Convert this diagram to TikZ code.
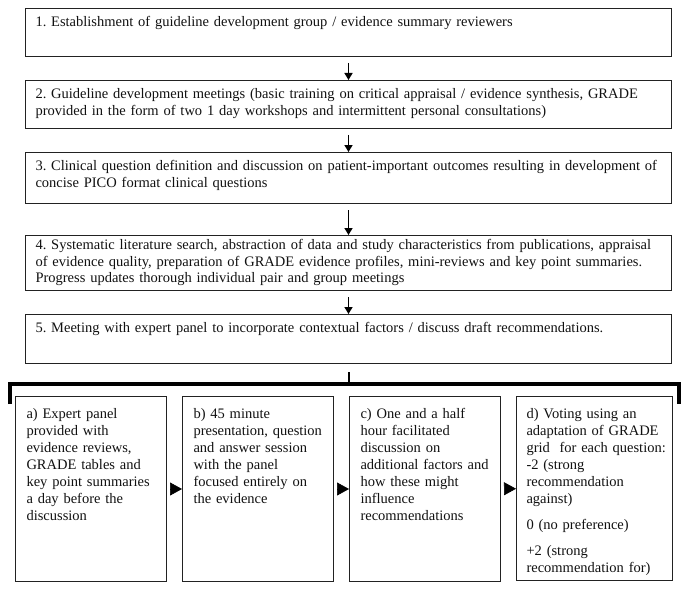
\documentclass[tikz,border=0pt]{standalone}
\usepackage{fontspec}
\setmainfont{Liberation Serif}
\usepackage{tikz}
\usetikzlibrary{positioning,arrows.meta}
\definecolor{ink}{HTML}{111111}
\definecolor{rule}{HTML}{222222}
\tikzset{
  stage/.style={draw=rule, line width=1pt, anchor=north west, text=ink,
    text width=626pt, inner xsep=10pt, inner ysep=8pt, align=left,
    text height=10pt, font=\fontsize{14.5}{16.7}\selectfont},
  substage/.style={draw=rule, line width=1pt, anchor=north west, text=ink,
    inner xsep=11pt, inner ysep=10pt, align=left,
    text height=12pt, text depth=153pt, font=\fontsize{14.5}{17}\selectfont},
  flow/.style={-{Triangle[length=7pt,width=8pt]}, line width=1.5pt, shorten <=6pt},
  nudge/.style={-{Triangle[length=12pt,width=13pt]}, line width=0.6pt, shorten <=3pt},
  brace/.style={line width=3.5pt, line join=miter}
}

\begin{document}
\frenchspacing
\begin{tikzpicture}[x=1pt,y=-1pt]
  \useasboundingbox (0,0) rectangle (685,591);

  \node[stage, text depth=22pt] (s1) at (25,8)
    {1. Establishment of guideline development group / evidence summary reviewers\\ ~};
  \node[stage, text depth=22pt] (s2) at (25,80)
    {2. Guideline development meetings (basic training on critical appraisal / evidence synthesis, GRADE\\
     provided in the form of two 1 day workshops and intermittent personal consultations)};
  \node[stage, text depth=25pt] (s3) at (25,152)
    {3. Clinical question definition and discussion on patient-important outcomes resulting in development of\\
     concise PICO format clinical questions};
  \node[stage, inner ysep=4pt, text depth=37pt] (s4) at (25,235)
    {4. Systematic literature search, abstraction of data and study characteristics from publications, appraisal\\
     of evidence quality, preparation of GRADE evidence profiles, mini-reviews and key point summaries.\\
     Progress updates thorough individual pair and group meetings};
  \node[stage, text depth=23pt] (s5) at (25,314)
    {5. Meeting with expert panel to incorporate contextual factors / discuss draft recommendations.\\ ~};

  \draw[flow] (s1) -- (s2);
  \draw[flow] (s2) -- (s3);
  \draw[flow] (s3) -- (s4);
  \draw[flow] (s4) -- (s5);

  % panel meeting
  \coordinate (hub) at (s5.south |- 0,384);
  \draw[line width=2pt, shorten <=8pt] (s5) -- (hub);
  \draw[brace] (10,404) |- (679,384) -- (679,404);

  \node[substage, text width=129pt] (pa) at (15,396)
    {a) Expert panel\\ provided with\\ evidence reviews,\\ GRADE tables and\\
     key point summaries\\ a day before the\\ discussion};
  \node[substage, text width=129pt] (pb) at (182,396)
    {b) 45 minute\\ presentation, question\\ and answer session\\ with the panel\\
     focused entirely on\\ the evidence};
  \node[substage, text width=129pt] (pc) at (349,396)
    {c) One and a half\\ hour facilitated\\ discussion on\\ additional factors and\\
     how these might\\ influence\\ recommendations};
  \node[substage, text width=136pt, inner xsep=10pt, text depth=152pt] (pd) at (516,396)
    {d) Voting using an\\ adaptation of GRADE\\ \mbox{grid\ \ for each question:}\\ -2 (strong\\
     recommendation\\ against)\\[9pt] 0 (no preference)\\[9pt] +2 (strong\\ recommendation for)};

  \draw[nudge] (pa) -- (pb);
  \draw[nudge] (pb) -- (pc);
  \draw[nudge] (pc) -- (pd);
\end{tikzpicture}
\end{document}
